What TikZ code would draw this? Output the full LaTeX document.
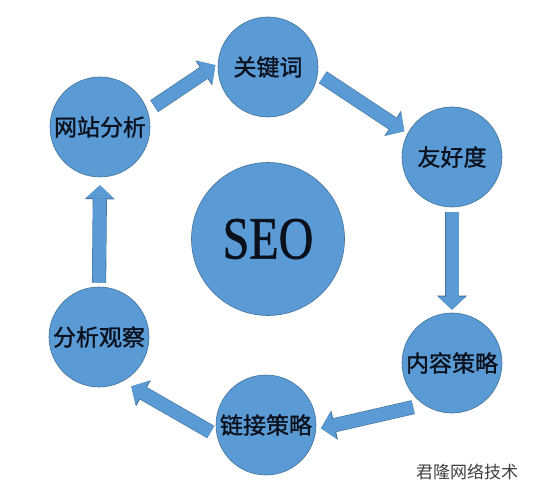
\documentclass[tikz,border=0pt]{standalone}
\usepackage{fontspec}
\setmainfont{Liberation Serif}
\newfontfamily\cjk[FakeBold=1.2]{Noto Sans CJK SC}
\newfontfamily\cjkmark{Noto Sans CJK SC}
\newfontfamily\seofont[FakeBold=1]{Liberation Serif}
\usetikzlibrary{arrows.meta}

\definecolor{seoblue}{HTML}{5B9BD5}
\definecolor{seoedge}{HTML}{41719C}
\definecolor{seotext}{HTML}{0A101C}

\tikzset{
  ball/.style={circle, fill=seoblue, draw=seoedge, line width=0.6pt, minimum size=100pt,
    inner sep=0pt, text=seotext, font=\cjk\fontsize{23}{23}\selectfont},
  flow/.style={seoblue, line width=13pt, -{Triangle[width=28pt,length=13pt,line width=0pt]},
    preaction={draw=seoedge, line width=14.2pt, -{Triangle[width=30pt,length=14pt,line width=0pt]}}}
}

\begin{document}
\begin{tikzpicture}[x=1pt, y=-1pt]
  \fill[white] (0,0) rectangle (549,500);
  \useasboundingbox (0,0) rectangle (549,500);
  % centre
  \node[ball, minimum size=153pt, font=\seofont\fontsize{60}{60}\selectfont] (seo) at (268,239) {\scalebox{0.8}[1]{SEO}};
  % ring of steps
  \foreach \nm/\x/\y/\txt in {kw/268/67/关键词, yh/452/157/友好度, nr/452/363/内容策略,
                              lj/266/425/链接策略, gc/99/337/分析观察, wz/100/127/网站分析} {
    \node[ball] (\nm) at (\x,\y) {\txt};
  }
  % block arrows
  \foreach \a/\b/\s/\e in {wz.19/kw.176/8/3, kw.-8/yh.152/6/4, yh.south/nr.north/5/3,
                           nr.236/lj.-5/11/5, lj.192/gc.-62/7/10, gc.north/wz.south/4/8} {
    \draw[flow, shorten <=\s pt, shorten >=\e pt] (\a) -- (\b);
  }
  % mark
  \node[font=\cjkmark\fontsize{17}{17}\selectfont, text=black!75] (mark) at (467,472) {君隆网络技术};
\end{tikzpicture}
\end{document}
